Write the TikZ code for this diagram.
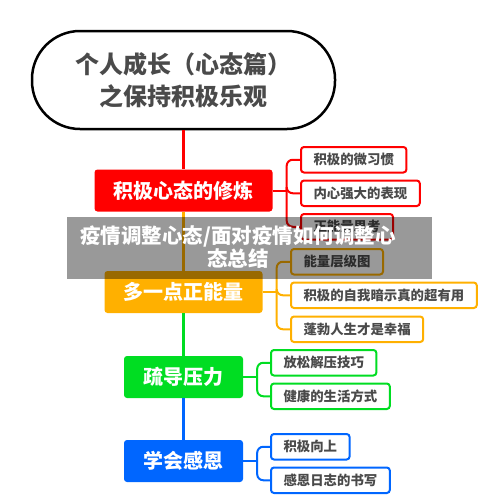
\documentclass[tikz,border=0pt]{standalone}
\usepackage{fontspec}
\setmainfont{Noto Sans CJK SC}
\usepackage{tikz}
\usetikzlibrary{positioning}

\definecolor{txtgray}{HTML}{4A4A4A}
\definecolor{cred}{HTML}{FF0000}
\definecolor{corange}{HTML}{FFB000}
\definecolor{cgreen}{HTML}{00DD22}
\definecolor{cblue}{HTML}{0066FF}

\begin{document}
\begin{tikzpicture}[
    x=1pt, y=-1pt,
    topic/.style={rectangle, rounded corners=3pt, minimum height=42pt, inner sep=0pt, text=white, font=\fontsize{20}{24}\selectfont\bfseries},
    leaf/.style={rectangle, draw=#1, fill=white, line width=2pt, rounded corners=3pt, minimum height=25.5pt, inner xsep=12.5pt, inner ysep=0pt, text=txtgray, font=\fontsize{13.4}{16}\selectfont\bfseries},
    trunk/.style={draw=#1, line width=2.5pt},
    branch/.style={draw=#1, line width=2pt, rounded corners=6pt},
]
\useasboundingbox (0,0) rectangle (500,498);

\node[draw, line width=2.5pt, rounded corners=48pt, minimum width=303pt, minimum height=98pt, align=center, text=txtgray, font=\fontsize{24}{32}\selectfont\bfseries] (root) at (183.5,80) {个人成长（心态篇）\\之保持积极乐观};

\node[topic, fill=cred, minimum width=178pt] (mind) at (183.5,190.5) {积极心态的修炼};
\node[topic, fill=corange, minimum width=158pt] (energy) at (183.5,292) {多一点正能量};
\node[topic, fill=cgreen, minimum width=119pt] (stress) at (183.5,377) {疏导压力};
\node[topic, fill=cblue, minimum width=119pt] (thanks) at (183.5,461) {学会感恩};

\draw[trunk=cred] (root.south) -- (mind.north);
\draw[trunk=corange] (mind.south) -- (energy.north);
\draw[trunk=cgreen] (energy.south) -- (stress.north);
\draw[trunk=cblue] (stress.south) -- (thanks.north);

\node[leaf=cred, anchor=north west] (m1) at (300,146) {积极的微习惯};
\node[leaf=cred, below right=6pt and 0pt of m1.south west] (m2) {内心强大的表现};
\node[leaf=cred, below right=6pt and 0pt of m2.south west] (m3) {正能量思考};

\node[leaf=corange, anchor=north west] (e1) at (290,248) {能量层级图};
\node[leaf=corange, below right=6pt and 0pt of e1.south west] (e2) {积极的自我暗示真的超有用};
\node[leaf=corange, below right=6.5pt and 0pt of e2.south west] (e3) {蓬勃人生才是幸福};

\node[leaf=cgreen, anchor=north west] (s1) at (270,349) {放松解压技巧};
\node[leaf=cgreen, below right=6pt and 0pt of s1.south west] (s2) {健康的生活方式};

\node[leaf=cblue, anchor=north west] (t1) at (270,433) {积极向上};
\node[leaf=cblue, below right=6pt and 0pt of t1.south west] (t2) {感恩日志的书写};

\draw[trunk=cred, line width=2pt] (mind.east) -- ++(14,0) coordinate (mj);
\foreach \c in {m1,m2,m3} \draw[branch=cred] (mj) |- (\c.west);
\draw[trunk=corange, line width=2pt] (energy.east) -- ++(14,0) coordinate (ej);
\foreach \c in {e1,e2,e3} \draw[branch=corange] (ej) |- (\c.west);
\draw[trunk=cgreen, line width=2pt] (stress.east) -- ++(14,0) coordinate (sj);
\foreach \c in {s1,s2} \draw[branch=cgreen] (sj) |- (\c.west);
\draw[trunk=cblue, line width=2pt] (thanks.east) -- ++(14,0) coordinate (tj);
\foreach \c in {t1,t2} \draw[branch=cblue] (tj) |- (\c.west);

\node[fill=black, fill opacity=0.4, minimum width=365pt, minimum height=62pt, inner sep=0pt] (banner) at (249.5,248) {};
\node[align=center, text=white, font=\fontsize{20.5}{23}\selectfont\bfseries] (bannertext) at (238,247) {疫情调整心态/面对疫情如何调整心\\态总结};
\end{tikzpicture}
\end{document}
